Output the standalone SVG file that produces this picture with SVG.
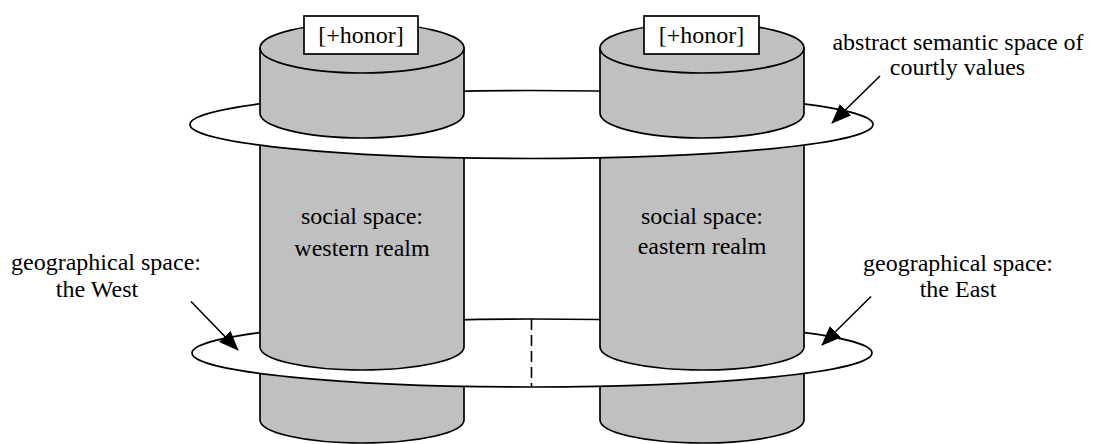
<svg xmlns="http://www.w3.org/2000/svg" width="1093" height="444" viewBox="0 0 1093 444">
<defs>
<style>
.cyl{fill:#c0c0c0;stroke:#000;stroke-width:1.7}
.ring{fill:#fff;stroke:#000;stroke-width:1.7}
.box{fill:#fff;stroke:#000;stroke-width:1.7}
.lbl{font-family:"Liberation Serif","Times New Roman",serif;font-size:24px;fill:#000;text-anchor:middle}
.arr{stroke:#000;stroke-width:1.6;fill:none;marker-end:url(#ah)}
.dash{stroke:#000;stroke-width:1.6;stroke-dasharray:11,5;fill:none}
</style>
<marker id="ah" viewBox="0 0 20 16" refX="19" refY="8" markerWidth="20" markerHeight="16" markerUnits="userSpaceOnUse" orient="auto">
<path d="M0,0 L20,8 L0,16 Z" fill="#000"/>
</marker>
</defs>
<!-- lower stubs -->
<g id="west-stub"><path class="cyl" d="M260,356 L260,420 A102,23 0 0 0 464,420 L464,356 Z"/></g>
<g id="east-stub"><path class="cyl" d="M600,356 L600,420 A102,23 0 0 0 804,420 L804,356 Z"/></g>
<!-- geographical ring -->
<g id="geo-ring"><ellipse class="ring" cx="532" cy="353" rx="340" ry="34"/></g>
<!-- columns -->
<g id="west-column">
<path class="cyl" d="M260,130 L260,347 A102,23 0 0 0 464,347 L464,130 Z"/>
<text class="lbl" x="362" y="224">social space:</text>
<text class="lbl" x="362" y="256">western realm</text>
</g>
<g id="east-column">
<path class="cyl" d="M600,130 L600,347 A102,23 0 0 0 804,347 L804,130 Z"/>
<text class="lbl" x="702" y="224">social space:</text>
<text class="lbl" x="702" y="254">eastern realm</text>
</g>
<g id="border"><line class="dash" x1="531.5" y1="319" x2="531.5" y2="387"/></g>
<!-- semantic ring -->
<g id="semantic-ring"><ellipse class="ring" cx="531.5" cy="124.5" rx="341.5" ry="34"/></g>
<!-- upper discs -->
<g id="west-disc">
<path class="cyl" d="M260,48 L260,113 A102,25 0 0 0 464,113 L464,48 Z"/>
<ellipse class="cyl" cx="362" cy="48" rx="102" ry="25"/>
<rect class="box" x="304" y="16" width="114" height="38"/>
<text class="lbl" x="361" y="43">[+honor]</text>
</g>
<g id="east-disc">
<path class="cyl" d="M600,48 L600,113 A102,25 0 0 0 804,113 L804,48 Z"/>
<ellipse class="cyl" cx="702" cy="48" rx="102" ry="25"/>
<rect class="box" x="644" y="16" width="115" height="38"/>
<text class="lbl" x="701.5" y="43">[+honor]</text>
</g>
<!-- labels -->
<g id="label-semantic">
<text class="lbl" x="958" y="50">abstract semantic space of</text>
<text class="lbl" x="957.5" y="75">courtly values</text>
</g>
<g id="label-west">
<text class="lbl" x="106" y="270">geographical space:</text>
<text class="lbl" x="97" y="297">the West</text>
</g>
<g id="label-east">
<text class="lbl" x="958" y="271">geographical space:</text>
<text class="lbl" x="958" y="297">the East</text>
</g>
<!-- connectors -->
<g id="connectors">
<line class="arr" x1="880" y1="76" x2="832" y2="123"/>
<line class="arr" x1="191" y1="301.5" x2="238" y2="350"/>
<line class="arr" x1="871" y1="296.5" x2="822" y2="345"/>
</g>
</svg>
